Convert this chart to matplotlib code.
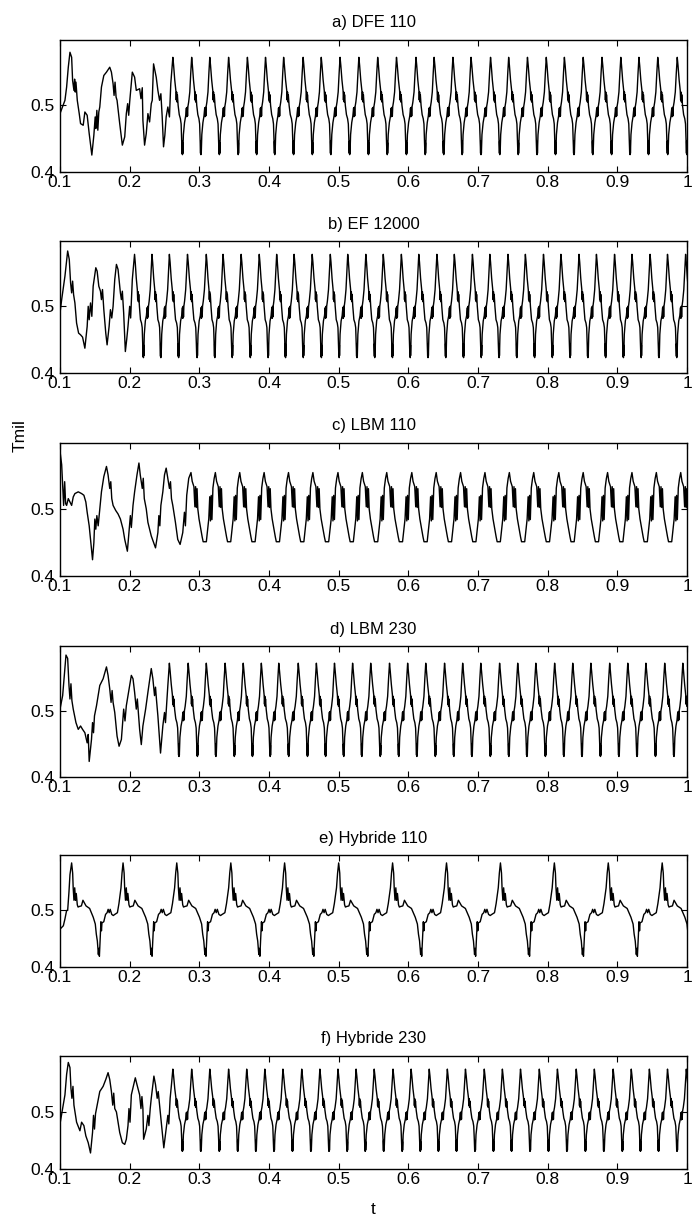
import matplotlib
matplotlib.use("Agg")
import matplotlib.pyplot as plt
import numpy as np

plt.rcParams['font.family'] = ['Liberation Sans', 'DejaVu Sans']

titles = ["a) DFE 110", "b) EF 12000", "c) LBM 110", "d) LBM 230", "e) Hybride 110", "f) Hybride 230"]
xticks = [0.1, 0.2, 0.3, 0.4, 0.5, 0.6, 0.7, 0.8, 0.9, 1.0]
xticklabels = ["0.1", "0.2", "0.3", "0.4", "0.5", "0.6", "0.7", "0.8", "0.9", "1"]
yticks = [0.4, 0.5]
yticklabels = ["0.4", "0.5"]

# ---- a) DFE 110 : start-up part (read from picture) ----
a_tr_t = [0.1000, 0.1071, 0.1095, 0.1119, 0.1143, 0.1167, 0.1181, 0.1200, 0.1210, 0.1219, 0.1229, 0.1248,
          0.1276, 0.1295, 0.1333, 0.1357, 0.1390, 0.1419, 0.1457, 0.1486, 0.1505, 0.1514, 0.1529, 0.1543,
          0.1557, 0.1571, 0.1595, 0.1629, 0.1667, 0.1714, 0.1738, 0.1762, 0.1776, 0.1790, 0.1805, 0.1819,
          0.1857, 0.1895, 0.1929, 0.1952, 0.1971, 0.1986, 0.2000, 0.2038, 0.2071, 0.2095, 0.2143, 0.2162,
          0.2181, 0.2190, 0.2214, 0.2238, 0.2262, 0.2286, 0.2310, 0.2324, 0.2343, 0.2381, 0.2405, 0.2429,
          0.2448, 0.2467, 0.2486, 0.2505, 0.2524, 0.2548, 0.2571, 0.2590]
a_tr_v = [0.4876, 0.5075, 0.5274, 0.5572, 0.5796, 0.5721, 0.5373, 0.5224, 0.5393, 0.5199, 0.5348, 0.5075,
          0.4876, 0.4726, 0.4701, 0.4900, 0.4851, 0.4577, 0.4254, 0.4552, 0.4826, 0.4652, 0.4925, 0.4627,
          0.4900, 0.4975, 0.5274, 0.5448, 0.5498, 0.5572, 0.5498, 0.5323, 0.5149, 0.5348, 0.5124, 0.5075,
          0.4726, 0.4403, 0.4527, 0.4876, 0.5025, 0.4851, 0.5050, 0.5498, 0.5423, 0.5224, 0.5249, 0.5100,
          0.5264, 0.4776, 0.4403, 0.4577, 0.4876, 0.4751, 0.5025, 0.5075, 0.5622, 0.5423, 0.5224, 0.5075,
          0.5174, 0.4826, 0.4378, 0.4552, 0.4826, 0.4975, 0.4826, 0.5323]
a_peaks = [0.262, 0.289, 0.315, 0.342, 0.369, 0.395, 0.421, 0.449, 0.475, 0.502, 0.529, 0.556, 0.583,
           0.611, 0.637, 0.664, 0.690, 0.718, 0.744, 0.771, 0.798, 0.824, 0.851, 0.878, 0.905, 0.931,
           0.958, 0.986, 1.013]

# shared cycle phases (fraction of one cycle after each peak) for a, b, d, f
saw_phase = [0.00, 0.04, 0.10, 0.16, 0.18, 0.20, 0.22, 0.24, 0.28, 0.34, 0.40, 0.44, 0.47, 0.49, 0.50,
             0.51, 0.52, 0.53, 0.56, 0.62, 0.68, 0.72, 0.74, 0.76, 0.78, 0.80, 0.84, 0.90, 0.95]
a_cycle = [0.572, 0.560, 0.538, 0.522, 0.508, 0.520, 0.505, 0.516, 0.500, 0.486, 0.480, 0.472, 0.448,
           0.428, 0.446, 0.426, 0.444, 0.428, 0.456, 0.474, 0.484, 0.496, 0.483, 0.497, 0.484, 0.498,
           0.505, 0.520, 0.548]

# ---- b) EF 12000 ----
b_tr_t = [0.1000, 0.1024, 0.1071, 0.1110, 0.1133, 0.1152, 0.1167, 0.1181, 0.1195, 0.1214, 0.1238, 0.1267,
          0.1295, 0.1324, 0.1357, 0.1390, 0.1405, 0.1419, 0.1438, 0.1457, 0.1476, 0.1514, 0.1533, 0.1557,
          0.1581, 0.1595, 0.1610, 0.1629, 0.1657, 0.1676, 0.1705, 0.1724, 0.1743, 0.1762, 0.1786, 0.1810,
          0.1833, 0.1867, 0.1881, 0.1895, 0.1914, 0.1938, 0.1957, 0.1976, 0.2000, 0.2014, 0.2038]
b_tr_v = [0.4900, 0.5101, 0.5453, 0.5830, 0.5704, 0.5352, 0.5202, 0.5378, 0.5176, 0.5051, 0.4749, 0.4598,
          0.4573, 0.4538, 0.4372, 0.4699, 0.5000, 0.4799, 0.5051, 0.4850, 0.5302, 0.5579, 0.5528, 0.5302,
          0.5227, 0.5101, 0.5252, 0.4950, 0.4598, 0.4422, 0.4699, 0.4950, 0.4825, 0.5000, 0.5403, 0.5629,
          0.5554, 0.5202, 0.5101, 0.5227, 0.4900, 0.4322, 0.4498, 0.4699, 0.5000, 0.4825, 0.5403]
b_peaks = [0.207, 0.232, 0.257, 0.283, 0.310, 0.334, 0.360, 0.386, 0.411, 0.436, 0.462, 0.488, 0.513,
           0.539, 0.564, 0.590, 0.615, 0.641, 0.666, 0.692, 0.717, 0.743, 0.768, 0.794, 0.819, 0.845,
           0.870, 0.896, 0.921, 0.947, 0.972, 0.998, 1.023]
b_cycle = [0.578, 0.566, 0.542, 0.525, 0.510, 0.522, 0.507, 0.518, 0.500, 0.480, 0.475, 0.468, 0.445,
           0.425, 0.444, 0.423, 0.442, 0.426, 0.458, 0.478, 0.486, 0.498, 0.482, 0.500, 0.484, 0.500,
           0.508, 0.525, 0.552]

# ---- c) LBM 110 ----
c_tr_t = [0.1000, 0.1024, 0.1038, 0.1052, 0.1067, 0.1081, 0.1095, 0.1119, 0.1143, 0.1167, 0.1190, 0.1214,
          0.1262, 0.1310, 0.1343, 0.1371, 0.1390, 0.1419, 0.1438, 0.1467, 0.1486, 0.1500, 0.1514, 0.1529,
          0.1548, 0.1571, 0.1595, 0.1629, 0.1667, 0.1690, 0.1714, 0.1729, 0.1743, 0.1762, 0.1800, 0.1833,
          0.1867, 0.1905, 0.1929, 0.1967, 0.1990, 0.2010, 0.2024, 0.2048, 0.2071, 0.2105, 0.2133, 0.2152,
          0.2181, 0.2195, 0.2210, 0.2238, 0.2262, 0.2310, 0.2371, 0.2405, 0.2419, 0.2433, 0.2448, 0.2476,
          0.2500, 0.2524, 0.2548, 0.2571, 0.2586, 0.2600, 0.2619, 0.2657, 0.2690, 0.2724, 0.2762, 0.2786,
          0.2800, 0.2819, 0.2848]
c_tr_v = [0.5859, 0.5657, 0.5354, 0.5051, 0.5404, 0.5076, 0.5051, 0.5152, 0.5101, 0.5051, 0.5177, 0.5227,
          0.5253, 0.5227, 0.5202, 0.5101, 0.4949, 0.4747, 0.4545, 0.4242, 0.4495, 0.4848, 0.4697, 0.4899,
          0.4747, 0.5000, 0.5253, 0.5480, 0.5631, 0.5505, 0.5303, 0.5404, 0.5152, 0.5051, 0.4975, 0.4924,
          0.4848, 0.4697, 0.4545, 0.4369, 0.4646, 0.4899, 0.4722, 0.5051, 0.5253, 0.5505, 0.5682, 0.5505,
          0.5303, 0.5455, 0.5152, 0.5000, 0.4798, 0.4596, 0.4419, 0.4646, 0.4899, 0.4747, 0.5051, 0.5253,
          0.5505, 0.5606, 0.5455, 0.5303, 0.5404, 0.5152, 0.5051, 0.4798, 0.4545, 0.4470, 0.4646, 0.4949,
          0.4747, 0.5202, 0.5455]
c_peaks = [0.288, 0.323, 0.358, 0.393, 0.428, 0.463, 0.499, 0.534, 0.569, 0.605, 0.640, 0.675, 0.710,
           0.745, 0.780, 0.816, 0.851, 0.886, 0.921, 0.956, 0.991, 1.026]
c_phase = [0.00, 0.05, 0.12, 0.16, 0.19, 0.22, 0.25, 0.28, 0.33, 0.40, 0.46, 0.50, 0.63, 0.68, 0.73,
           0.77, 0.80, 0.83, 0.86, 0.90, 0.95]
c_cycle = [0.554, 0.541, 0.533, 0.503, 0.533, 0.502, 0.530, 0.500, 0.485, 0.470, 0.458, 0.451, 0.451,
           0.468, 0.485, 0.518, 0.482, 0.520, 0.484, 0.531, 0.545]

# ---- d) LBM 230 ----
d_tr_t = [0.1000, 0.1038, 0.1062, 0.1086, 0.1110, 0.1129, 0.1143, 0.1157, 0.1171, 0.1190, 0.1229, 0.1262,
          0.1295, 0.1324, 0.1357, 0.1390, 0.1405, 0.1419, 0.1452, 0.1467, 0.1481, 0.1495, 0.1524, 0.1571,
          0.1619, 0.1667, 0.1690, 0.1714, 0.1733, 0.1748, 0.1762, 0.1786, 0.1819, 0.1848, 0.1881, 0.1914,
          0.1933, 0.1952, 0.1976, 0.2024, 0.2048, 0.2071, 0.2095, 0.2110, 0.2124, 0.2143, 0.2167, 0.2190,
          0.2229, 0.2262, 0.2310, 0.2333, 0.2357, 0.2371, 0.2386, 0.2405, 0.2443, 0.2476, 0.2500, 0.2514,
          0.2529, 0.2548]
d_tr_v = [0.5026, 0.5230, 0.5537, 0.5843, 0.5792, 0.5383, 0.5179, 0.5409, 0.5154, 0.5026, 0.4822, 0.4720,
          0.4771, 0.4720, 0.4669, 0.4516, 0.4643, 0.4235, 0.4567, 0.4822, 0.4669, 0.4924, 0.5077, 0.5383,
          0.5485, 0.5664, 0.5536, 0.5332, 0.5128, 0.5307, 0.5128, 0.4975, 0.4618, 0.4465, 0.4567, 0.5026,
          0.4847, 0.5077, 0.5230, 0.5536, 0.5485, 0.5281, 0.5026, 0.5179, 0.4975, 0.4720, 0.4490, 0.4771,
          0.5026, 0.5281, 0.5639, 0.5485, 0.5230, 0.5358, 0.5154, 0.4924, 0.4362, 0.4771, 0.4975, 0.4822,
          0.5077, 0.5383]
d_peaks = [0.257, 0.284, 0.310, 0.337, 0.363, 0.389, 0.414, 0.442, 0.468, 0.494, 0.520, 0.546, 0.573,
           0.599, 0.625, 0.652, 0.678, 0.704, 0.731, 0.757, 0.783, 0.810, 0.836, 0.862, 0.889, 0.915,
           0.941, 0.968, 0.994, 1.020]
d_cycle = [0.572, 0.560, 0.540, 0.524, 0.510, 0.522, 0.507, 0.518, 0.502, 0.488, 0.482, 0.474, 0.452,
           0.433, 0.450, 0.431, 0.448, 0.433, 0.460, 0.477, 0.486, 0.498, 0.485, 0.499, 0.486, 0.500,
           0.507, 0.522, 0.549]

# ---- e) Hybride 110 ----
e_tr_t = [0.1000, 0.1048, 0.1071, 0.1095, 0.1110, 0.1129, 0.1143]
e_tr_v = [0.4669, 0.4729, 0.4850, 0.5000, 0.5000, 0.5332, 0.5633]
e_peaks = [0.1167, 0.1905, 0.2676, 0.3452, 0.4224, 0.5000, 0.5774, 0.6548, 0.7322, 0.8096, 0.8870,
           0.9644, 1.0418]
e_phase = [0.00, 0.02, 0.03, 0.045, 0.06, 0.075, 0.09, 0.11, 0.125, 0.15, 0.19, 0.22, 0.28, 0.35, 0.42,
           0.46, 0.48, 0.50, 0.52, 0.53, 0.54, 0.56, 0.57, 0.58, 0.59, 0.625, 0.66, 0.69, 0.71, 0.73,
           0.75, 0.78, 0.81, 0.84, 0.89, 0.92, 0.96, 0.98]
e_cycle = [0.584, 0.566, 0.540, 0.518, 0.540, 0.518, 0.530, 0.510, 0.506, 0.507, 0.508, 0.518, 0.508,
           0.5035, 0.488, 0.476, 0.458, 0.446, 0.422, 0.433, 0.419, 0.458, 0.480, 0.464, 0.478, 0.480,
           0.493, 0.496, 0.502, 0.496, 0.502, 0.493, 0.491, 0.493, 0.496, 0.512, 0.540, 0.566]

# ---- f) Hybride 230 ----
f_tr_t = [0.1000, 0.1038, 0.1071, 0.1095, 0.1119, 0.1143, 0.1157, 0.1171, 0.1186, 0.1200, 0.1238, 0.1286,
          0.1310, 0.1343, 0.1371, 0.1405, 0.1438, 0.1467, 0.1481, 0.1495, 0.1510, 0.1533, 0.1571, 0.1619,
          0.1657, 0.1690, 0.1714, 0.1738, 0.1757, 0.1771, 0.1786, 0.1810, 0.1857, 0.1895, 0.1929, 0.1952,
          0.1976, 0.1990, 0.2005, 0.2024, 0.2081, 0.2105, 0.2143, 0.2162, 0.2176, 0.2190, 0.2200, 0.2238,
          0.2262, 0.2276, 0.2295, 0.2310, 0.2348, 0.2371, 0.2395, 0.2410, 0.2429, 0.2452, 0.2490, 0.2524,
          0.2548, 0.2562, 0.2581, 0.2600]
f_tr_v = [0.4790, 0.5059, 0.5299, 0.5658, 0.5867, 0.5777, 0.5418, 0.5239, 0.5448, 0.5119, 0.4820, 0.4670,
          0.4820, 0.4760, 0.4580, 0.4461, 0.4281, 0.4640, 0.4940, 0.4700, 0.4969, 0.5119, 0.5358, 0.5448,
          0.5568, 0.5688, 0.5568, 0.5358, 0.5119, 0.5329, 0.5059, 0.4999, 0.4640, 0.4461, 0.4431, 0.4521,
          0.4760, 0.5059, 0.4820, 0.5299, 0.5598, 0.5478, 0.5299, 0.5059, 0.5269, 0.5059, 0.4521, 0.4700,
          0.4940, 0.4760, 0.5059, 0.5239, 0.5628, 0.5478, 0.5239, 0.5358, 0.5119, 0.4820, 0.4371, 0.4700,
          0.4940, 0.4790, 0.5239, 0.5478]
f_peaks = [0.262, 0.289, 0.315, 0.342, 0.368, 0.394, 0.420, 0.447, 0.473, 0.499, 0.525, 0.551, 0.578,
           0.604, 0.630, 0.656, 0.682, 0.709, 0.735, 0.761, 0.788, 0.814, 0.841, 0.867, 0.894, 0.920,
           0.946, 0.972, 0.999, 1.025]
f_cycle = [0.575, 0.563, 0.541, 0.525, 0.511, 0.523, 0.508, 0.519, 0.503, 0.489, 0.483, 0.475, 0.452,
           0.432, 0.450, 0.431, 0.448, 0.433, 0.460, 0.478, 0.487, 0.499, 0.486, 0.500, 0.487, 0.501,
           0.508, 0.523, 0.550]


def build(tr_t, tr_v, peaks, phase, cycle):
    t = list(tr_t)
    v = list(tr_v)
    for p0, p1 in zip(peaks[:-1], peaks[1:]):
        for ph, y in zip(phase, cycle):
            t.append(p0 + ph * (p1 - p0))
            v.append(y)
    t.append(peaks[-1])
    v.append(cycle[0])
    return np.array(t), np.array(v)


series = [
    build(a_tr_t, a_tr_v, a_peaks, saw_phase, a_cycle),
    build(b_tr_t, b_tr_v, b_peaks, saw_phase, b_cycle),
    build(c_tr_t, c_tr_v, c_peaks, c_phase, c_cycle),
    build(d_tr_t, d_tr_v, d_peaks, saw_phase, d_cycle),
    build(e_tr_t, e_tr_v, e_peaks, e_phase, e_cycle),
    build(f_tr_t, f_tr_v, f_peaks, saw_phase, f_cycle),
]

W, H = 692, 1218
fig = plt.figure(figsize=(W / 100, H / 100), dpi=100)
fig.patch.set_facecolor('white')

# axes boxes in pixels: (top, bottom)
boxes = [(40, 172), (241, 373), (443, 576), (646, 777), (855, 967), (1056, 1169)]
left_px, right_px = 60, 687

for (top, bot), title, (t, v) in zip(boxes, titles, series):
    ax = fig.add_axes([left_px / W, 1 - bot / H, (right_px - left_px) / W, (bot - top) / H])
    ax.plot(t, v, color='black', lw=1.0)
    ax.set_xlim(0.1, 1.0)
    ax.set_ylim(0.4, 0.598)
    ax.set_xticks(xticks)
    ax.set_xticklabels(xticklabels)
    ax.set_yticks(yticks)
    ax.set_yticklabels(yticklabels)
    ax.tick_params(direction='in', top=True, right=True, length=4, width=0.8,
                   labelsize=12.5, colors='black')
    ax.tick_params(axis='x', pad=2)
    ax.tick_params(axis='y', pad=4)
    for s in ax.spines.values():
        s.set_linewidth(1.0)
    ax.set_title(title, fontsize=12, pad=9)

fig.text(20 / W, 1 - 436 / H, 'Tmil', rotation=90, ha='center', va='center', fontsize=12.5)
fig.text(373 / W, 1 - 1209 / H, 't', ha='center', va='center', fontsize=12.5)

fig.savefig('out.png', dpi=100, facecolor='white')
